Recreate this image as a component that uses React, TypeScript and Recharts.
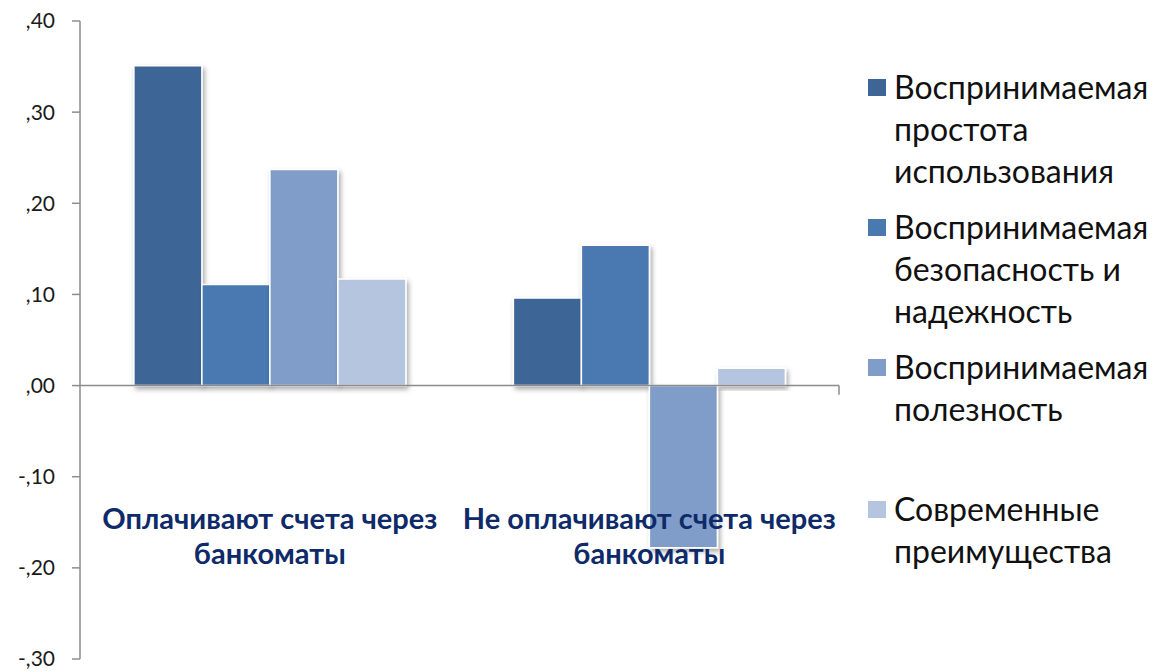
import { BarChart, Bar, XAxis, YAxis, ReferenceLine } from 'recharts'

const categories = ['Оплачивают счета через банкоматы', 'Не оплачивают счета через банкоматы']
const seriesNames = [
  'Воспринимаемая простота использования',
  'Воспринимаемая безопасность и надежность',
  'Воспринимаемая полезность',
  'Современные преимущества',
]
const legendLines = [
  ['Воспринимаемая', 'простота', 'использования'],
  ['Воспринимаемая', 'безопасность и', 'надежность'],
  ['Воспринимаемая', 'полезность'],
  ['Современные', 'преимущества'],
]
const ease = [0.351, 0.096]
const safety = [0.111, 0.154]
const usefulness = [0.237, -0.178]
const modern = [0.117, 0.019]
const yTicks = [-0.3, -0.2, -0.1, 0, 0.1, 0.2, 0.3, 0.4]
const boundaries = [1, 2]

const colors = ['#3d6697', '#4a79b0', '#7f9dc8', '#b5c4df']
const keys = ['s0', 's1', 's2', 's3']
// top of each legend entry, px inside the wrapper
const legendTops = [58, 198, 338, 480]

const data = categories.map((name, i) => ({
  name,
  s0: ease[i],
  s1: safety[i],
  s2: usefulness[i],
  s3: modern[i],
}))

const font = 'Lato, "Open Sans", sans-serif'

function fmt(v: number) {
  const s = Math.abs(v).toFixed(2).replace(/^0/, '').replace('.', ',')
  return v < 0 ? '-' + s : s
}

function CategoryTick(props: any) {
  const { x, y, payload } = props
  const words = String(payload.value).split(' ')
  const lines = [words.slice(0, -1).join(' '), words[words.length - 1]]
  return (
    <text x={x} y={y - 138} textAnchor="middle" fill="#0f2a68" fontFamily={font} fontWeight={700} fontSize={29}>
      {lines.map((l, i) => (
        <tspan key={i} x={x} dy={i === 0 ? 0 : 35}>
          {l}
        </tspan>
      ))}
    </text>
  )
}

export default function App() {
  return (
    <div style={{ position: 'relative', width: 1147, height: 663, fontFamily: font }}>
      <svg width={0} height={0} style={{ position: 'absolute' }}>
        <defs>
          <filter id="barShadow" x="-20%" y="-20%" width="150%" height="150%">
            <feDropShadow dx={2} dy={3} stdDeviation={2.5} floodColor="#000" floodOpacity={0.35} />
          </filter>
        </defs>
      </svg>
      <BarChart
        width={1147}
        height={663}
        data={data}
        margin={{ top: 13, right: 316, bottom: 10, left: 0 }}
        barCategoryGap="14.2%"
        barGap={0}
      >
        <XAxis
          dataKey="name"
          height={2}
          axisLine={false}
          tickLine={false}
          interval={0}
          tick={<CategoryTick />}
        />
        <XAxis xAxisId="grid" type="number" domain={[0, 2]} hide />
        <YAxis
          width={72}
          domain={[-0.3, 0.4]}
          ticks={yTicks}
          tickFormatter={fmt}
          tickSize={8}
          tickMargin={17}
          axisLine={{ stroke: '#8c8c8c', strokeWidth: 1.5 }}
          tickLine={{ stroke: '#8c8c8c', strokeWidth: 1.5 }}
          tick={{ fill: '#1a1a1a', fontSize: 21, fontFamily: font }}
          interval={0}
        />
        {keys.map((k, i) => (
          <Bar
            key={k}
            dataKey={k}
            name={seriesNames[i]}
            fill={colors[i]}
            stroke="#ffffff"
            strokeWidth={1.5}
            filter="url(#barShadow)"
            isAnimationActive={false}
          />
        ))}
        <ReferenceLine y={0} stroke="#8c8c8c" strokeWidth={1.5} />
        {boundaries.map((b) => (
          <ReferenceLine
            key={b}
            xAxisId="grid"
            segment={[
              { x: b, y: 0 },
              { x: b, y: -0.01 },
            ]}
            stroke="#8c8c8c"
            strokeWidth={1.5}
          />
        ))}
      </BarChart>
      {legendLines.map((lines, i) => (
        <div key={i} style={{ position: 'absolute', left: 860, top: legendTops[i] }}>
          <div style={{ position: 'absolute', left: 0, top: 13, width: 18, height: 17, background: colors[i] }} />
          <div style={{ position: 'absolute', left: 26, top: 0, fontSize: 32, lineHeight: '42px', color: '#111', whiteSpace: 'nowrap' }}>
            {lines.map((l, j) => (
              <div key={j}>{l}</div>
            ))}
          </div>
        </div>
      ))}
    </div>
  )
}
